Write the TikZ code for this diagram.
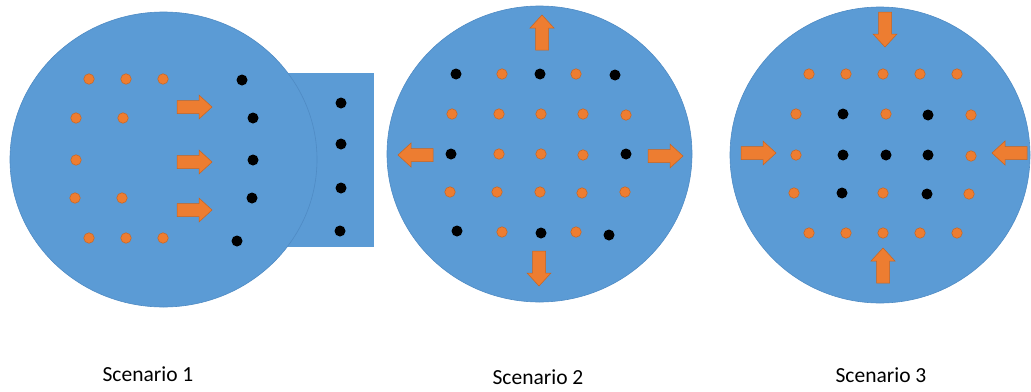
\documentclass[tikz,border=0pt]{standalone}
\usepackage{fontspec}
\setmainfont{Carlito}
\definecolor{wblue}{HTML}{5B9BD5}
\definecolor{wblueline}{HTML}{4F8BC4}
\definecolor{worange}{HTML}{ED7D31}
\definecolor{worangeline}{HTML}{C9641F}
\tikzset{
  disc/.style={fill=wblue, draw=wblueline, line width=0.6pt},
  odot/.style={circle, fill=worange, draw=worangeline, line width=0.5pt, minimum size=10.5pt, inner sep=0pt},
  bdot/.style={circle, fill=black, minimum size=11pt, inner sep=0pt},
  lbl/.style={font=\fontsize{21.5}{24}\selectfont, anchor=base, inner sep=0pt},
  barrow/.pic={\filldraw[fill=worange, draw=worangeline, line width=0.5pt]
     (0,-6.5) -- (22,-6.5) -- (22,-12) -- (35,0) -- (22,12) -- (22,6.5) -- (0,6.5) -- cycle;}
}
\begin{document}
\begin{tikzpicture}[x=1pt, y=-1pt]
\useasboundingbox (0,0) rectangle (1031,391);
% ---------- Scenario 1 ----------
\fill[wblue] (285,73) rectangle (374,247);
\draw[disc] (163.5,159.5) ellipse [x radius=153.5, y radius=147.5];
\foreach \n/\x/\y in {a/89/79, b/126/79, c/163/79, d/76/118, e/123/118, f/76/160,
  g/75/198, h/122/198, i/89/238, j/126/238, k/163/238}
  \node[odot] (s1o\n) at (\x,\y) {};
\foreach \n/\x/\y in {a/242/80, b/253/118, c/253/160, d/252/198, e/237/241,
  f/341/103, g/341/144, h/341/188, i/340/231}
  \node[bdot] (s1b\n) at (\x,\y) {};
\pic at (177,107) {barrow};
\pic at (177,162) {barrow};
\pic at (177,210) {barrow};
% ---------- Scenario 2 ----------
\draw[disc] (539.5,154) ellipse [x radius=152.5, y radius=148];
\foreach \n/\x/\y in {a/502/74, b/576/74,
  c/452/114, d/499/114, e/541/114, f/583/114, g/626/115,
  h/499/154, i/541/154, j/583/155,
  k/450/192, l/497/192, m/540/192, n/582/193, o/625/192,
  p/502/232, q/576/232}
  \node[odot] (s2o\n) at (\x,\y) {};
\foreach \n/\x/\y in {a/456/74, b/540/74, c/615/75, d/451/154, e/626/154,
  f/457/231, g/541/233, h/609/235}
  \node[bdot] (s2b\n) at (\x,\y) {};
\pic[rotate=90] at (542,50) {barrow};
\pic[rotate=-90] at (539,251) {barrow};
\pic[rotate=180] at (433,155) {barrow};
\pic at (648,156) {barrow};
% ---------- Scenario 3 ----------
\draw[disc] (880,155) ellipse [x radius=150, y radius=148];
\foreach \n/\x/\y in {a/809/74, b/846/74, c/883/74, d/920/74, e/957/74,
  f/796/114, g/886/114, h/971/115,
  i/796/155, j/971/156,
  k/794/193, l/883/193, m/969/194,
  n/809/233, o/846/233, p/883/233, q/920/233, r/957/233}
  \node[odot] (s3o\n) at (\x,\y) {};
\foreach \n/\x/\y in {a/843/114, b/928/115, c/843/155, d/886/155, e/928/155,
  f/842/193, g/927/194}
  \node[bdot] (s3b\n) at (\x,\y) {};
\pic[rotate=-90] at (885,12) {barrow};
\pic[rotate=90] at (883,283) {barrow};
\pic at (741,153) {barrow};
\pic[rotate=180] at (1027,153) {barrow};
% ---------- Labels ----------
\node[lbl] (l1) at (148,381) {Scenario 1};
\node[lbl] (l2) at (538,384) {Scenario 2};
\node[lbl] (l3) at (881,382) {Scenario 3};
\end{tikzpicture}
\end{document}
